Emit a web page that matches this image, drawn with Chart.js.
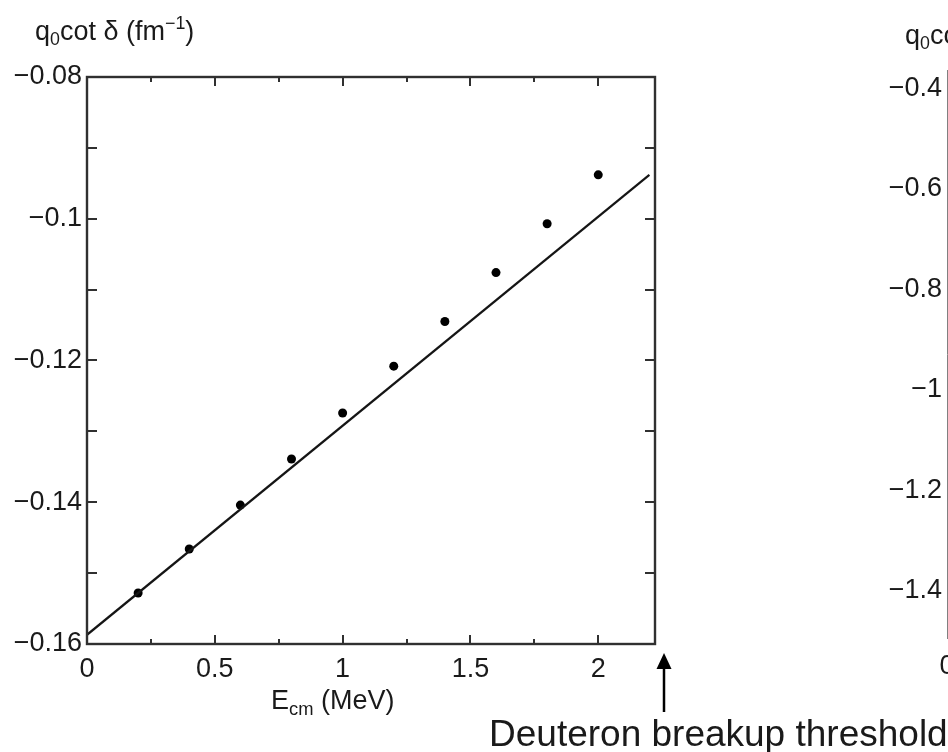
<!DOCTYPE html>
<html>
<head>
<meta charset="utf-8">
<script src="https://cdn.jsdelivr.net/npm/chart.js@4"></script>
<style>
  html, body { margin: 0; padding: 0; background: #fff; }
  body { width: 948px; height: 752px; overflow: hidden; position: relative; font-family: 'Liberation Sans', Arial, Helvetica, sans-serif; color: #1a1a1a; }
  canvas { position: absolute; left: 0; top: 0; }
  .lbl { position: absolute; white-space: nowrap; line-height: 1; }
  .lbl sub { font-size: 0.66em; vertical-align: -0.3em; line-height: 0; }
  .lbl sup { font-size: 0.66em; vertical-align: 0.62em; line-height: 0; }
</style>
</head>
<body>
<canvas id="left" width="948" height="752"></canvas>
<canvas id="right" width="1400" height="752"></canvas>

<div class="lbl" style="left:35px; top:18px; font-size:27px;">q<sub>0</sub>cot δ (fm<sup>−1</sup>)</div>
<div class="lbl" style="left:905px; top:22px; font-size:27px;">q<sub>0</sub>cot δ (fm<sup>−1</sup>)</div>
<div class="lbl" style="left:271px; top:687px; font-size:27px;">E<sub style="font-size:0.68em">cm</sub> (MeV)</div>
<div class="lbl" style="left:489px; top:715px; font-size:37px;">Deuteron breakup threshold</div>

<script>
// data
const energy = [0.2, 0.4, 0.6, 0.8, 1.0, 1.2, 1.4, 1.6, 1.8, 2.0];
const qcot = [-0.1528, -0.1466, -0.1404, -0.1339, -0.1274, -0.1208, -0.1145, -0.1076, -0.1007, -0.0938];
// fitted straight line
const lineE = [0, 2.2];
const lineQ = [-0.1587, -0.0938];
// inner tick marks
const xTickValues = [0.25, 0.5, 0.75, 1, 1.25, 1.5, 1.75, 2];
const yTickValues = [-0.15, -0.14, -0.13, -0.12, -0.11, -0.1, -0.09];
const thresholdMeV = 2.224;

Chart.defaults.font.family = "'Liberation Sans', Arial, Helvetica, sans-serif";
Chart.defaults.font.size = 27;
Chart.defaults.color = '#1a1a1a';

function fmt(v) {
    const s = parseFloat(v.toFixed(2)).toString();
    return s.replace('-', '\u2212');
}

const frameColor = '#303030';

const framePlugin = {
    id: 'frame',
    afterDatasetsDraw(chart) {
        const ctx = chart.ctx;
        const a = chart.chartArea;
        const xs = chart.scales.x, ys = chart.scales.y;
        ctx.save();
        ctx.strokeStyle = frameColor;
        ctx.lineWidth = 2.4;
        ctx.strokeRect(a.left, a.top, a.right - a.left, a.bottom - a.top);
        ctx.lineWidth = 2;
        ctx.beginPath();
        xTickValues.forEach(v => {
            const px = Math.round(xs.getPixelForValue(v));
            const len = (Math.abs(v * 2 - Math.round(v * 2)) < 1e-6) ? 9 : 5;
            ctx.moveTo(px, a.bottom); ctx.lineTo(px, a.bottom - len);
            ctx.moveTo(px, a.top); ctx.lineTo(px, a.top + len);
        });
        yTickValues.forEach(v => {
            const py = Math.round(ys.getPixelForValue(v));
            ctx.moveTo(a.left, py); ctx.lineTo(a.left + 10, py);
            ctx.moveTo(a.right, py); ctx.lineTo(a.right - 10, py);
        });
        ctx.stroke();

        // arrow pointing up at the breakup threshold
        const ax = Math.round(xs.getPixelForValue(thresholdMeV)) + 8;
        ctx.fillStyle = '#000';
        ctx.strokeStyle = '#000';
        ctx.lineWidth = 2.5;
        ctx.beginPath();
        ctx.moveTo(ax, 712);
        ctx.lineTo(ax, 665);
        ctx.stroke();
        ctx.beginPath();
        ctx.moveTo(ax, 653);
        ctx.lineTo(ax - 7.5, 669);
        ctx.lineTo(ax + 7.5, 669);
        ctx.closePath();
        ctx.fill();
        ctx.restore();
    }
};

new Chart(document.getElementById('left'), {
    type: 'scatter',
    data: {
        datasets: [
            {
                label: 'fit',
                data: lineE.map((e, i) => ({ x: e, y: lineQ[i] })),
                showLine: true,
                borderColor: '#151515',
                borderWidth: 2.2,
                pointRadius: 0,
                fill: false
            },
            {
                label: 'points',
                data: energy.map((e, i) => ({ x: e, y: qcot[i] })),
                backgroundColor: '#000',
                borderColor: '#000',
                pointRadius: 4.5,
                borderWidth: 0
            }
        ]
    },
    options: {
        responsive: false,
        animation: false,
        events: [],
        layout: { padding: { top: 77, right: 293, left: 0, bottom: 0 } },
        plugins: { legend: { display: false }, tooltip: { enabled: false } },
        scales: {
            x: {
                type: 'linear',
                min: 0,
                max: 2.222,
                grid: { display: false, drawTicks: false },
                border: { display: false },
                ticks: { stepSize: 0.5, includeBounds: false, autoSkip: false, maxRotation: 0, padding: 9, callback: v => fmt(v) },
                afterFit: s => { s.height = 108; }
            },
            y: {
                type: 'linear',
                min: -0.16,
                max: -0.08,
                grid: { display: false, drawTicks: false },
                border: { display: false },
                ticks: { stepSize: 0.02, includeBounds: false, autoSkip: false, padding: 5, callback: v => fmt(v) },
                afterFit: s => { s.width = 87; }
            }
        }
    },
    plugins: [framePlugin]
});

// right-hand panel, only its axis is inside the picture
new Chart(document.getElementById('right'), {
    type: 'scatter',
    data: { datasets: [{ data: [] }] },
    options: {
        responsive: false,
        animation: false,
        events: [],
        layout: { padding: { top: 70, right: 0, left: 0, bottom: 0 } },
        plugins: { legend: { display: false }, tooltip: { enabled: false } },
        scales: {
            x: {
                type: 'linear',
                min: 0,
                max: 2.2,
                grid: { display: false, drawTicks: false },
                border: { display: false },
                ticks: { stepSize: 0.5, includeBounds: false, autoSkip: false, maxRotation: 0, padding: 12, callback: v => fmt(v) },
                afterFit: s => { s.height = 114; }
            },
            y: {
                type: 'linear',
                min: -1.494,
                max: -0.364,
                grid: { display: false, drawTicks: false },
                border: { display: true, color: '#808080', width: 1 },
                ticks: { stepSize: 0.2, includeBounds: false, autoSkip: false, padding: 5, callback: v => fmt(v) },
                afterFit: s => { s.width = 947; }
            }
        }
    }
});
</script>
</body>
</html>
